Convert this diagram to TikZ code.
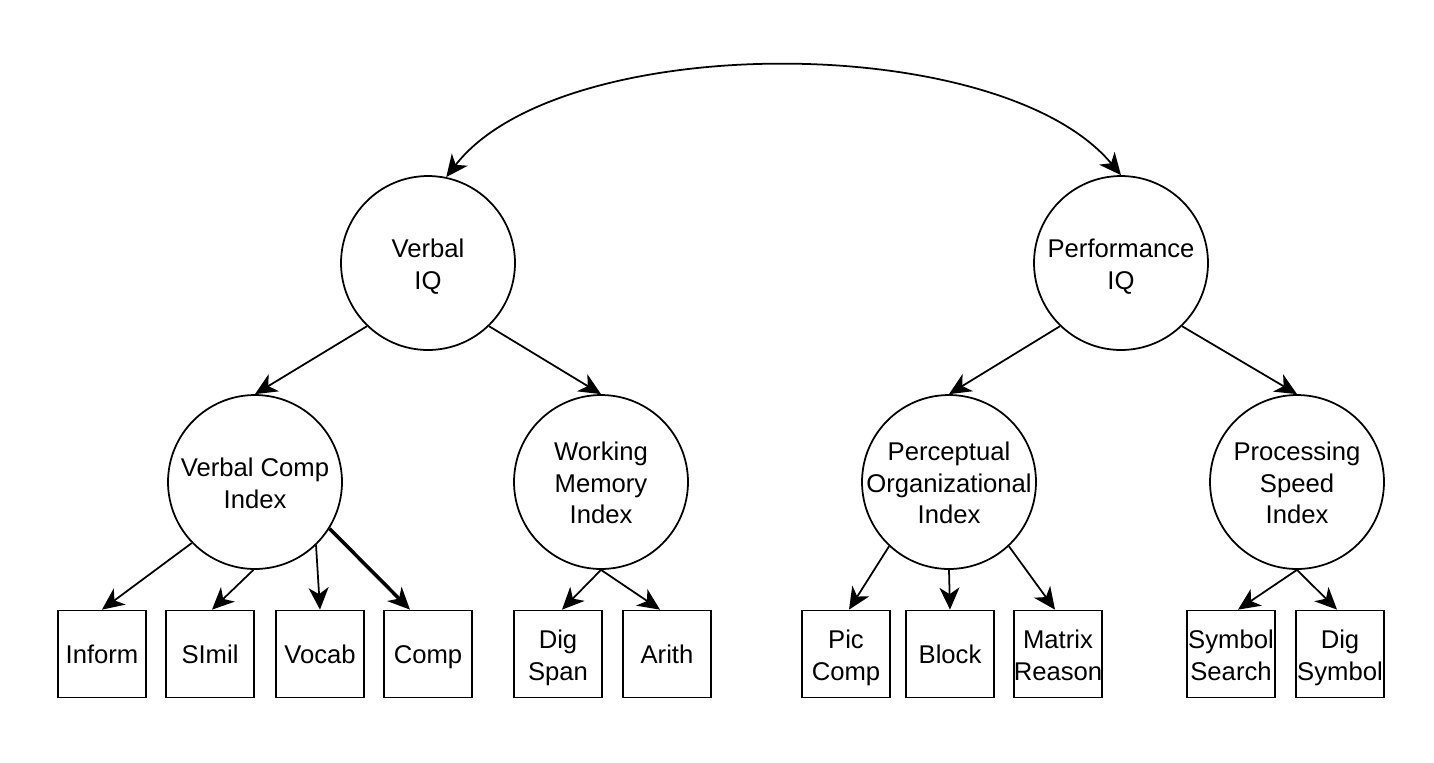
\documentclass[tikz,border=0pt]{standalone}
\usepackage{fontspec}
\setmainfont{Liberation Sans}
\usetikzlibrary{arrows.meta}

\newcommand{\topstrut}{\rule{0pt}{13.6pt}}
\newcommand{\lift}{\rule{0pt}{14.8pt}}
\newcommand{\botstrut}{\rule[-3pt]{0pt}{3pt}}

\begin{document}
\begin{tikzpicture}[x=0.02cm,y=-0.02cm,>={Stealth[length=4.4mm,width=4mm,inset=1.3mm]},
    line width=1pt,font=\fontsize{14.6}{17.9}\selectfont,
    execute at begin node=\topstrut,execute at end node=\botstrut,
    factor/.style={circle,draw,minimum size=3.48cm,inner sep=0pt,align=center},
    test/.style={rectangle,draw,minimum width=1.76cm,minimum height=1.74cm,inner sep=0pt,align=center}]
    \useasboundingbox (0,0) rectangle (1434,762);

    \node[factor] (viq) at (428,263) {\lift Verbal\\IQ};
    \node[factor] (piq) at (1121,263) {\lift Performance\\IQ};

    \node[factor] (vci) at (255,482) {\lift Verbal Comp\\Index};
    \node[factor] (wmi) at (601,482) {\lift Working\\Memory\\Index};
    \node[factor] (poi) at (949,482) {\lift Perceptual\\\makebox[0pt]{Organizational}\\Index};
    \node[factor] (psi) at (1297,482) {\lift Processing\\Speed\\Index};

    \node[test] (inform) at (102,654) {Inform};
    \node[test] (simil) at (210,654) {SImil};
    \node[test] (vocab) at (320,654) {Vocab};
    \node[test] (comp) at (428,654) {Comp};
    \node[test] (digspan) at (558,654) {\lift Dig\\Span};
    \node[test] (arith) at (667,654) {Arith};
    \node[test] (piccomp) at (846,654) {\lift Pic\\Comp};
    \node[test] (block) at (950,654) {Block};
    \node[test] (matrix) at (1058,654) {\lift Matrix\\Reason};
    \node[test] (symsearch) at (1231,654) {\lift Symbol\\Search};
    \node[test] (digsym) at (1340,654) {\lift Dig\\Symbol};

    \draw[<->] (viq.78) .. controls (560,30) and (1000,30) .. (piq.90);

    \draw[->] (viq.226) -- (vci.north);
    \draw[->] (viq.314) -- (wmi.north);
    \draw[->] (piq.226) -- (poi.north);
    \draw[->] (piq.314) -- (psi.north);

    \draw[->] (vci.224) -- (inform.north);
    \draw[->] (vci.269) -- ([xshift=0.4mm]simil.north);
    \draw[->] (vci.314) -- (vocab.north);
    \draw[->,line width=2pt] (vci.328) -- ([xshift=-3.6mm]comp.north);
    \draw[->] (wmi.south) -- ([xshift=0.8mm]digspan.north);
    \draw[->] (wmi.south) -- ([xshift=-1.4mm]arith.north);
    \draw[->] (poi.227) -- ([xshift=0.6mm]piccomp.north);
    \draw[->] (poi.south) -- (block.north);
    \draw[->] (poi.313) -- ([xshift=-0.6mm]matrix.north);
    \draw[->] (psi.south) -- ([xshift=1.4mm]symsearch.north);
    \draw[->] (psi.south) -- ([xshift=-0.6mm]digsym.north);
\end{tikzpicture}
\end{document}
